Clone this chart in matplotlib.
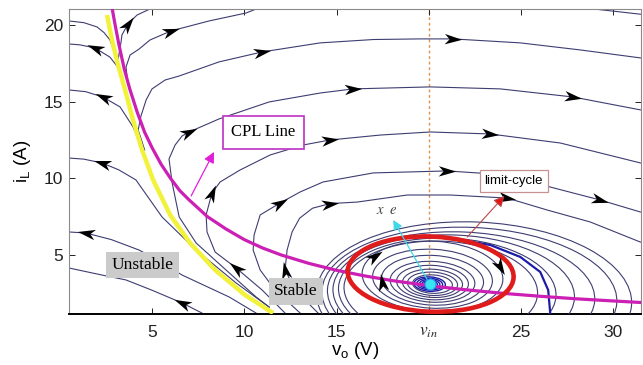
import numpy as np
import matplotlib.pyplot as plt
from matplotlib.patches import Ellipse
from matplotlib.markers import MarkerStyle
from matplotlib.path import Path
from matplotlib.transforms import Affine2D

V_IN = 20.0
eq_v, eq_i = 20.05, 3.1

# constant power load line (i = P / v)
cpl_v = [2.85, 3.0, 3.2, 3.5, 3.8, 4.2, 4.6, 5.0, 5.5, 6.0, 6.5, 7.0, 8.0, 9.0, 10.0,
         11.0, 12.0, 13.5, 15.0, 16.5, 18.0, 20.0, 22.0, 24.0, 26.0, 28.0, 30.0, 31.5]
cpl_i = [21.0, 20.0, 18.75, 17.1, 15.8, 14.3, 13.0, 12.0, 10.9, 10.0, 9.2, 8.6, 7.5, 6.7, 6.0,
         5.45, 5.0, 4.45, 4.0, 3.64, 3.33, 3.0, 2.73, 2.5, 2.31, 2.14, 2.0, 1.9]

# separatrix between the stable and unstable regions
sep_v = [2.56, 2.83, 3.16, 3.54, 3.97, 4.46, 5.06, 5.98, 7.06, 8.42, 10.04, 11.56]
sep_i = [20.65, 19.02, 17.39, 15.76, 13.8, 11.85, 9.89, 7.61, 5.78, 4.02, 2.39, 1.21]

# trajectories escaping to the left
u1_v = [3.0, 2.85, 2.72, 2.4, 2.02, 1.3, 0.5]
u1_i = [18.04, 18.6, 19.02, 19.5, 19.87, 20.15, 20.26]
u2_v = [3.85, 3.54, 3.27, 2.72, 1.91, 1.1, 0.5]
u2_i = [14.5, 15.96, 17.06, 17.9, 18.5, 18.7, 18.76]
u3_v = [4.6, 4.51, 3.97, 3.27, 2.34, 1.4, 0.5]
u3_i = [11.3, 11.85, 13.35, 14.65, 15.3, 15.65, 15.76]
u4_v = [11.35, 9.56, 7.39, 5.54, 4.13, 3.2, 2.29, 1.3, 0.5]
u4_i = [1.6, 3.17, 5.32, 7.48, 9.89, 10.55, 11.0, 11.25, 11.32]
u5_v = [10.64, 9.18, 6.63, 5.4, 4.3, 2.8, 1.42, 0.5]
u5_i = [1.21, 2.26, 3.69, 4.6, 5.32, 6.0, 6.43, 6.5]
u6_v = [7.71, 6.63, 5.0, 3.59, 2.29, 0.5]
u6_i = [1.21, 1.87, 2.7, 3.37, 3.69, 4.15]

# trajectories sweeping to the right
r0_v = [28.5, 30.0, 31.47]
r0_i = [21.1, 20.9, 20.7]
r1_v = [3.16, 3.32, 3.37, 3.7, 4.19, 4.89]
r1_i = [17.72, 18.89, 19.35, 20.07, 20.65, 21.04]
r2_v = [3.7, 3.59, 3.81, 4.3, 4.89, 6.03, 8.09, 10.1, 10.64]
r2_i = [16.09, 17.26, 18.04, 18.43, 19.02, 19.61, 20.26, 20.78, 21.04]
r3_v = [4.6, 4.25, 4.4, 4.68, 5.0, 5.71, 6.47, 8.63, 10.97, 14.11, 17.0, 19.53, 21.32,
        24.96, 28.21, 31.47]
r3_i = [11.85, 13.15, 14.06, 15.11, 15.83, 16.41, 16.67, 17.59, 18.24, 18.83, 19.05, 19.09,
        19.09, 18.83, 18.37, 17.85]
r4_v = [11.35, 10.64, 9.01, 7.39, 6.47, 6.09, 5.92, 6.25, 6.63, 7.01, 8.63, 11.35, 14.11,
        15.9, 20.08, 23.87, 27.83, 31.47]
r4_i = [1.6, 2.26, 4.02, 5.78, 7.48, 9.7, 11.26, 12.17, 12.76, 13.02, 13.87, 14.98, 15.56,
        15.83, 15.96, 15.83, 15.3, 14.46]
r5_v = [12.21, 10.97, 9.56, 8.42, 7.98, 7.93, 8.25, 8.69, 9.77, 11.4, 13.19, 14.65, 17.37,
        20.08, 23.33, 27.13, 31.47]
r5_i = [1.21, 2.71, 4.15, 5.19, 6.5, 7.61, 9.04, 9.76, 10.54, 11.52, 12.17, 12.5, 12.82,
        13.02, 12.89, 12.3, 11.0]
r6_v = [13.03, 11.67, 10.86, 10.48, 10.53, 10.86, 11.94, 13.03, 14.27, 16.99, 20.99, 24.25,
        26.58, 29.3, 31.47]
r6_i = [1.21, 2.71, 4.02, 5.32, 6.3, 7.61, 8.39, 9.11, 9.76, 10.35, 10.48, 10.22, 9.43,
        8.58, 7.8]
r7_v = [14.0, 12.76, 12.21, 12.32, 12.59, 13.0, 13.7, 14.65, 16.12, 18.83, 21.16, 24.25,
        26.42, 28.75, 31.47]
r7_i = [1.21, 2.71, 4.02, 5.32, 6.5, 7.4, 8.05, 8.35, 8.45, 8.91, 8.91, 8.71, 7.93, 7.15,
        5.84]

# spiral arm leaving the limit cycle
arc_v = [21.8, 23.33, 24.96, 26.04, 26.47, 26.58]
arc_i = [5.97, 5.65, 4.87, 3.89, 2.71, 1.21]

# closed orbits around the equilibrium
in_a = [0.3, 0.42, 0.55, 0.7, 0.85]
in_b = [0.16, 0.22, 0.3, 0.38, 0.47]
mid_a = [1.08, 1.36, 1.63, 1.95, 2.3, 2.77, 3.25, 3.82]
mid_b = [0.6, 0.76, 0.92, 1.12, 1.33, 1.62, 1.92, 2.3]
mid_ci = [3.1, 3.12, 3.15, 3.2, 3.25, 3.35, 3.45, 3.6]
out_cv = [20.65, 21.0, 21.35, 21.75, 22.2, 22.45]
out_ci = [2.7, 2.6, 2.5, 2.4, 2.3, 2.2]
out_a = [5.25, 5.9, 6.55, 7.25, 8.0, 8.55]
out_b = [3.2, 3.5, 3.8, 4.1, 4.5, 4.95]

# limit cycle
lc_v, lc_i, lc_a, lc_b = 20.1, 3.75, 4.5, 2.45

xticks = [5, 10, 15, 20, 25, 30]
xtick_labels = ['5', '10', '15', r'$v_{in}$', '25', '30']
yticks = [5, 10, 15, 20]

NAVY = '#3d3d72'
DEEP = '#1c1ca6'

trajectories = [
    (u1_v, u1_i, []), (u2_v, u2_i, [4]), (u3_v, u3_i, [4]), (u4_v, u4_i, [6]),
    (u5_v, u5_i, [6]), (u6_v, u6_i, [1]), (r0_v, r0_i, []), (r1_v, r1_i, [3]),
    (r2_v, r2_i, [5]), (r3_v, r3_i, [8, 12]), (r4_v, r4_i, [9, 13, 16]),
    (r5_v, r5_i, [2, 6, 11, 14]), (r6_v, r6_i, [6, 10, 13]), (r7_v, r7_i, [2, 7, 11]),
]

plt.rcParams['font.family'] = ['Liberation Sans', 'DejaVu Sans']

fig = plt.figure(figsize=(6.43, 3.65), dpi=100)
ax = fig.add_axes([69 / 643, 1 - 314 / 365, 572 / 643, 305 / 365])
ax.set_xlim(0.5, 31.5)
ax.set_ylim(1.15, 21.04)

head = Path([(1, 0), (-1, 0.6), (-0.45, 0), (-1, -0.6), (1, 0)],
            [Path.MOVETO, Path.LINETO, Path.LINETO, Path.LINETO, Path.CLOSEPOLY])


def arrowhead(x, y, dx, dy, size=12.5):
    p0 = ax.transData.transform((x, y))
    p1 = ax.transData.transform((x + dx, y + dy))
    ang = np.degrees(np.arctan2(p1[1] - p0[1], p1[0] - p0[0]))
    m = MarkerStyle(head, transform=Affine2D().rotate_deg(ang))
    ax.plot([x], [y], marker=m, ms=size, color='black', mew=0, zorder=7)


ax.axvline(V_IN, color='#e0904c', lw=1.0, ls=(0, (2, 2)), zorder=1)

for tv, ti, arrows in trajectories:
    ax.plot(tv, ti, color=NAVY, lw=0.8, zorder=2)
    for k in arrows:
        arrowhead(tv[k], ti[k], tv[k + 1] - tv[k - 1], ti[k + 1] - ti[k - 1])

for a, b in zip(in_a, in_b):
    ax.add_patch(Ellipse((eq_v, eq_i), 2 * a, 2 * b, angle=-4, fill=False,
                         ec=DEEP, lw=1.0, zorder=3))
for a, b, ci in zip(mid_a, mid_b, mid_ci):
    ax.add_patch(Ellipse((20.2, ci), 2 * a, 2 * b, angle=-4, fill=False,
                         ec=NAVY, lw=0.8, zorder=3))
for cv, ci, a, b in zip(out_cv, out_ci, out_a, out_b):
    ax.add_patch(Ellipse((cv, ci), 2 * a, 2 * b, angle=-3, fill=False,
                         ec=NAVY, lw=0.8, zorder=3))

# direction markers on the closed orbits (clockwise)
for idx, t in [(5, 185), (7, 144), (7, 16)]:
    tr = np.radians(t)
    a, b, ci = mid_a[idx], mid_b[idx], mid_ci[idx]
    arrowhead(20.2 + a * np.cos(tr), ci + b * np.sin(tr), a * np.sin(tr), -b * np.cos(tr))

ax.plot(arc_v, arc_i, color=DEEP, lw=1.6, zorder=3)

ax.plot(sep_v, sep_i, color='#f2f23a', lw=3.2, zorder=4, solid_capstyle='butt')
ax.plot(cpl_v, cpl_i, color='#cc1fb4', lw=2.3, zorder=4)
ax.add_patch(Ellipse((lc_v, lc_i), 2 * lc_a, 2 * lc_b, angle=-3, fill=False,
                     ec='#e01b1b', lw=3.3, zorder=5))
ax.plot([eq_v], [eq_i], 'o', ms=8, color='#38e6f2', mec='#2a8cf0', mew=0.8, zorder=8)

# annotations
ax.annotate('', xy=(8.36, 11.72), xytext=(7.12, 8.85),
            arrowprops=dict(arrowstyle='-|>', color='#e020d8', lw=0.9,
                            mutation_scale=16, shrinkA=0, shrinkB=0), zorder=6)
ax.text(11.02, 12.99, 'CPL Line', family='Liberation Serif', fontsize=12,
        ha='center', va='center', zorder=9,
        bbox=dict(boxstyle='square,pad=0.5', fc='white', ec='#c040c8', lw=1.3))

ax.annotate('', xy=(24.1, 8.85), xytext=(22.08, 6.17),
            arrowprops=dict(arrowstyle='-|>', ec='#b84848', fc='#e81010', lw=0.8,
                            mutation_scale=16, shrinkA=0, shrinkB=0), zorder=10)
ax.text(24.6, 9.82, 'limit-cycle', fontsize=9.5, ha='center', va='center', zorder=9,
        bbox=dict(boxstyle='square,pad=0.35', fc='white', ec='#c89090', lw=0.9))

ax.annotate('', xy=(18.07, 7.28), xytext=(eq_v, eq_i),
            arrowprops=dict(arrowstyle='-|>', color='#3fd8e8', lw=0.9,
                            mutation_scale=14, shrinkA=0, shrinkB=0), zorder=6)
ax.text(17.75, 7.95, r'$x\ \ e$', fontsize=10.5, ha='center', va='center',
        color='#444444', math_fontfamily='stix', zorder=9)

ax.text(4.49, 4.34, 'Unstable', family='Liberation Serif', fontsize=12.5,
        ha='center', va='center', zorder=9,
        bbox=dict(boxstyle='square,pad=0.3', fc='#cbcbcb', ec='none'))
ax.text(12.78, 2.62, 'Stable', family='Liberation Serif', fontsize=12.5,
        ha='center', va='center', zorder=9,
        bbox=dict(boxstyle='square,pad=0.3', fc='#cbcbcb', ec='none'))

ax.set_xticks(xticks)
ax.set_xticklabels(xtick_labels)
ax.set_yticks(yticks)
for lab in ax.get_xticklabels():
    if 'v_' in lab.get_text():
        lab.set_math_fontfamily('stix')
        lab.set_fontsize(11.5)
ax.tick_params(direction='in', length=4, width=0.7, top=True, right=True,
               labelsize=12.5, colors='#222222')
ax.tick_params(axis='x', pad=8)
ax.tick_params(axis='y', pad=4)
for side in ['left', 'top', 'right']:
    ax.spines[side].set_color('#8a8a8a')
    ax.spines[side].set_linewidth(0.8)
ax.spines['bottom'].set_color('black')
ax.spines['bottom'].set_linewidth(1.4)

ax.set_xlabel(r'v$_{\mathregular{o}}$ (V)', fontsize=13.5, labelpad=0)
ax.set_ylabel(r'i$_{\mathregular{L}}$ (A)', fontsize=13.5, labelpad=8)

fig.savefig('out.png', dpi=100)
